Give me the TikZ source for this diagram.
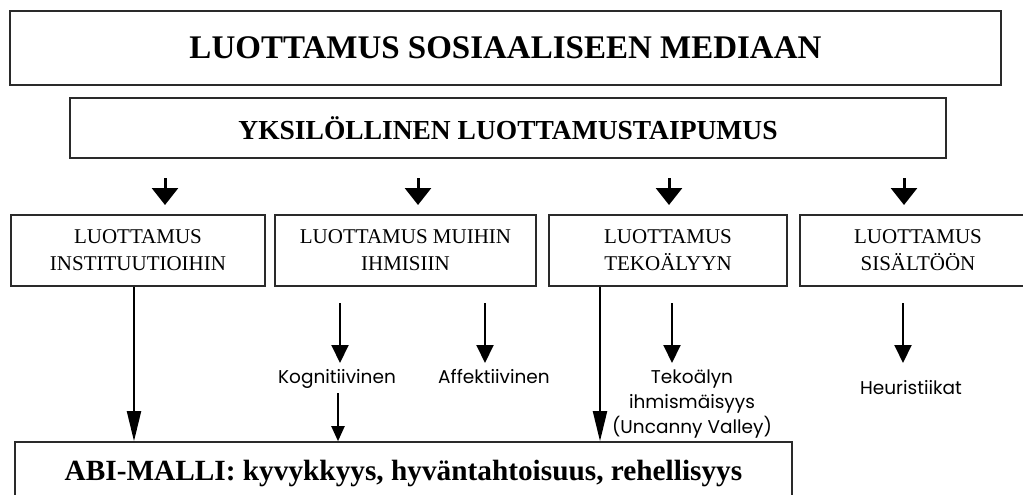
\documentclass[tikz,border=0pt]{standalone}
\usepackage{fontspec}
\setmainfont{Liberation Serif}
\newfontfamily\pop{Poppins}
\usetikzlibrary{arrows.meta}
\definecolor{edge}{HTML}{2A2A2A}
\begin{document}
\begin{tikzpicture}[x=1pt,y=-1pt,
  box/.style={draw=edge, line width=1.6pt, inner sep=0pt, align=center},
  rowbox/.style={box, minimum height=71pt, font=\fontsize{21}{27}\selectfont},
  bigarrow/.style={line width=3pt, -{Triangle[width=26pt,length=17pt]}},
  midarrow/.style={line width=2pt, -{Triangle[width=17pt,length=18pt]}},
  longarrow/.style={line width=2pt, -{Triangle[width=14pt,length=30pt]}},
  smallarrow/.style={line width=2pt, -{Triangle[width=13pt,length=15pt]}},
  lbl/.style={font=\pop\fontsize{18.5}{25}\selectfont, align=center, inner sep=0pt},
  ]
\clip (0,0) rectangle (1023,495);
\fill[white] (0,0) rectangle (1023,495);

% boxes
\node[box, minimum width=991pt, minimum height=74pt, font=\bfseries\fontsize{33}{38}\selectfont] (top) at (505.5,48) {LUOTTAMUS SOSIAALISEEN MEDIAAN};
\node[box, minimum width=876pt, minimum height=60pt, font=\bfseries\fontsize{27.5}{32}\selectfont] (yks) at (508,128) {YKSILÖLLINEN LUOTTAMUSTAIPUMUS};

\node[rowbox, minimum width=254pt] (b1) at (138,250.5) {LUOTTAMUS\\INSTITUUTIOIHIN};
\node[rowbox, minimum width=261pt] (b2) at (405.5,250.5) {LUOTTAMUS MUIHIN\\IHMISIIN};
\node[rowbox, minimum width=238pt] (b3) at (668,250.5) {LUOTTAMUS\\TEKOÄLYYN};
\node[rowbox, minimum width=236pt] (b4) at (918,250.5) {LUOTTAMUS\\SISÄLTÖÖN};

\node[box, minimum width=777pt, minimum height=56pt, text depth=0pt, font=\bfseries\fontsize{29.3}{34}\selectfont] (abi) at (403.5,470) {ABI-MALLI: kyvykkyys, hyväntahtoisuus, rehellisyys};

% labels
\node[lbl, anchor=base] (kog) at (337,383) {Kognitiivinen};
\node[lbl, anchor=base] (aff) at (494,383) {Affektiivinen};
\node[lbl, anchor=base] (tek) at (692,433) {Tekoälyn\\ihmismäisyys\\(Uncanny Valley)};
\node[lbl, anchor=base] (heu) at (911,394) {Heuristiikat};

% free ends of the top arrows
\coordinate (t1s) at (165,178); \coordinate (t1e) at (165,205);
\coordinate (t2s) at (418,178); \coordinate (t2e) at (418,205);
\coordinate (t3s) at (669,178); \coordinate (t3e) at (669,205);
\coordinate (t4s) at (904,178); \coordinate (t4e) at (904,205);
\draw[bigarrow] (t1s) -- (t1e);
\draw[bigarrow] (t2s) -- (t2e);
\draw[bigarrow] (t3s) -- (t3e);
\draw[bigarrow] (t4s) -- (t4e);

% arrows towards the labels
\coordinate (k1) at (340,303); \coordinate (k2) at (340,363);
\coordinate (a1) at (485,303); \coordinate (a2) at (485,363);
\coordinate (e1) at (672,303); \coordinate (e2) at (672,363);
\coordinate (h1) at (903,303); \coordinate (h2) at (903,363);
\draw[midarrow] (k1) -- (k2);
\draw[midarrow] (a1) -- (a2);
\draw[midarrow] (e1) -- (e2);
\draw[midarrow] (h1) -- (h2);

% arrows into the ABI box
\draw[longarrow] ([xshift=-4pt]b1.south) -- ([xshift=-4pt]b1.south |- abi.north);
\draw[longarrow] ([xshift=-68pt]b3.south) -- ([xshift=-68pt]b3.south |- abi.north);
\coordinate (k3) at (338,393);
\draw[smallarrow] (k3) -- (k3 |- abi.north);
\end{tikzpicture}
\end{document}
